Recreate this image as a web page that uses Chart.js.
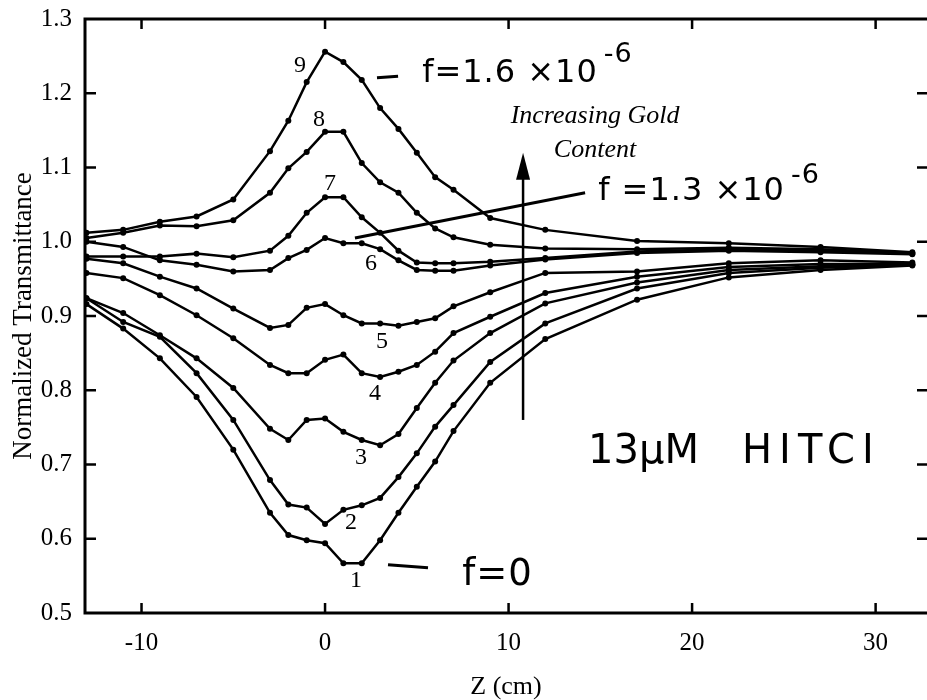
<!DOCTYPE html>
<html>
<head>
<meta charset="utf-8">
<script src="https://cdn.jsdelivr.net/npm/chart.js@4"></script>
<style>
  html, body { margin: 0; padding: 0; background: #fff; overflow: hidden; }
</style>
</head>
<body>
<canvas id="zscan" width="927" height="700"></canvas>
<script>
// DATA
const zValues = [-13, -11, -9, -7, -5, -3, -2, -1, 0, 1, 2, 3, 4, 5, 6, 7, 9, 12, 17, 22, 27, 32];

const curve1 = [0.916, 0.883, 0.843, 0.791, 0.720, 0.635, 0.605, 0.598, 0.594, 0.567, 0.567, 0.598, 0.635, 0.670, 0.704, 0.745, 0.810, 0.869, 0.922, 0.952, 0.962, 0.968];
const curve2 = [0.924, 0.892, 0.872, 0.823, 0.760, 0.679, 0.646, 0.642, 0.620, 0.639, 0.645, 0.655, 0.683, 0.715, 0.751, 0.780, 0.838, 0.890, 0.937, 0.958, 0.965, 0.969];
const curve3 = [0.924, 0.904, 0.874, 0.843, 0.803, 0.748, 0.733, 0.760, 0.762, 0.744, 0.733, 0.726, 0.741, 0.776, 0.810, 0.840, 0.877, 0.917, 0.945, 0.962, 0.967, 0.969];
const curve4 = [0.958, 0.951, 0.928, 0.901, 0.870, 0.834, 0.823, 0.823, 0.841, 0.848, 0.823, 0.818, 0.825, 0.834, 0.852, 0.877, 0.899, 0.931, 0.953, 0.966, 0.970, 0.970];
const curve5 = [0.977, 0.971, 0.953, 0.937, 0.910, 0.884, 0.888, 0.911, 0.916, 0.901, 0.890, 0.890, 0.887, 0.892, 0.897, 0.913, 0.932, 0.958, 0.960, 0.971, 0.975, 0.972];
const curve6 = [1.000, 0.993, 0.975, 0.969, 0.960, 0.962, 0.978, 0.989, 1.005, 0.998, 0.998, 0.990, 0.975, 0.962, 0.961, 0.961, 0.968, 0.976, 0.985, 0.988, 0.986, 0.983];
const curve7 = [0.980, 0.980, 0.980, 0.984, 0.979, 0.988, 1.008, 1.039, 1.060, 1.060, 1.033, 1.012, 0.988, 0.972, 0.971, 0.971, 0.973, 0.978, 0.987, 0.990, 0.988, 0.984];
const curve8 = [1.005, 1.012, 1.022, 1.021, 1.029, 1.066, 1.099, 1.121, 1.148, 1.148, 1.106, 1.080, 1.066, 1.039, 1.018, 1.006, 0.996, 0.991, 0.990, 0.992, 0.990, 0.985];
const curve9 = [1.012, 1.016, 1.027, 1.034, 1.057, 1.122, 1.163, 1.215, 1.256, 1.242, 1.218, 1.180, 1.152, 1.120, 1.087, 1.070, 1.032, 1.016, 1.001, 0.998, 0.993, 0.986];

const curves = [curve1, curve2, curve3, curve4, curve5, curve6, curve7, curve8, curve9];
const curveNames = ["1", "2", "3", "4", "5", "6", "7", "8", "9"];

const xTicks = [-10, 0, 10, 20, 30];
const yTicks = [0.5, 0.6, 0.7, 0.8, 0.9, 1.0, 1.1, 1.2, 1.3];

// curve number positions, in data units (z, T)
const nameSpots = [[1.69, 0.544], [1.42, 0.621], [1.96, 0.709], [2.72, 0.796], [3.11, 0.866],
                   [2.51, 0.971], [0.27, 1.078], [-0.33, 1.164], [-1.36, 1.237]];


// DATASETS
const datasets = curves.map((c, i) => ({
    label: curveNames[i],
    data: zValues.map((z, j) => ({ x: z, y: c[j] })),
    borderColor: "#000",
    backgroundColor: "#000",
    borderWidth: 2.5,
    pointRadius: 3,
    pointBorderWidth: 0,
    pointBackgroundColor: "#000",
    tension: 0,
    fill: false
}));


// FRAME, TICKS AND NOTES
const notesPlugin = {
    id: "notes",
    afterDraw(chart) {
        const ctx = chart.ctx;
        const xs = chart.scales.x, ys = chart.scales.y;
        const a = chart.chartArea;
        const P = (z, t) => [xs.getPixelForValue(z), ys.getPixelForValue(t)];

        ctx.save();
        ctx.strokeStyle = "#000";
        ctx.fillStyle = "#000";
        ctx.lineCap = "butt";

        // frame (right side is off the page)
        ctx.lineWidth = 3;
        ctx.beginPath();
        ctx.moveTo(a.right, a.top); ctx.lineTo(a.left, a.top);
        ctx.lineTo(a.left, a.bottom); ctx.lineTo(a.right, a.bottom);
        ctx.stroke();

        // inward ticks
        ctx.lineWidth = 2.5;
        ctx.beginPath();
        xTicks.forEach(v => {
            const x = xs.getPixelForValue(v);
            ctx.moveTo(x, a.top); ctx.lineTo(x, a.top + 10);
            ctx.moveTo(x, a.bottom); ctx.lineTo(x, a.bottom - 10);
        });
        yTicks.slice(1, -1).forEach(v => {
            const y = ys.getPixelForValue(v);
            ctx.moveTo(a.left, y); ctx.lineTo(a.left + 11, y);
            ctx.moveTo(a.right, y); ctx.lineTo(a.right - 10, y);
        });
        ctx.stroke();

        // curve numbers
        ctx.font = "24px 'Liberation Serif'";
        ctx.textAlign = "center";
        ctx.textBaseline = "middle";
        nameSpots.forEach((s, i) => {
            const [x, y] = P(s[0], s[1]);
            ctx.fillText(curveNames[i], x, y);
        });

        // handwritten notes
        ctx.textAlign = "left";
        ctx.textBaseline = "alphabetic";
        const hand = (txt, sup, z, t, tSup, size, gap) => {
            const [x, y] = P(z, t);
            ctx.font = size + "px 'DejaVu Sans'";
            ctx.letterSpacing = (gap || 0) + "px";
            ctx.fillText(txt, x, y);
            if (sup) {
                const w = ctx.measureText(txt).width;
                ctx.font = Math.round(size * 0.85) + "px 'DejaVu Sans'";
                ctx.fillText(sup, x + w + 6, ys.getPixelForValue(tSup));
            }
            ctx.letterSpacing = "0px";
        };
        const line = (z1, t1, z2, t2, w) => {
            const [x1, y1] = P(z1, t1), [x2, y2] = P(z2, t2);
            ctx.lineWidth = w;
            ctx.beginPath(); ctx.moveTo(x1, y1); ctx.lineTo(x2, y2); ctx.stroke();
        };

        line(2.83, 1.221, 3.98, 1.223, 3);
        hand("f=1.6 ×10", "-6", 5.29, 1.215, 1.242, 32, 1);

        line(1.63, 1.005, 14.17, 1.066, 3);
        hand("f =1.3 ×10", "-6", 14.88, 1.056, 1.079, 32, 1);

        hand("13μM", null, 14.33, 0.702, 0, 40, 0);
        hand("HITCI", null, 22.72, 0.702, 0, 40, 7);

        line(3.43, 0.565, 5.61, 0.561, 3);
        hand("f=0", null, 7.47, 0.538, 0, 37, 1);

        // increasing gold content + arrow
        ctx.font = "italic 26px 'Liberation Serif'";
        ctx.textAlign = "center";
        let [cx, cy] = P(14.71, 1.160);
        ctx.fillText("Increasing Gold", cx, cy);
        [cx, cy] = P(14.71, 1.114);
        ctx.fillText("Content", cx, cy);

        const [ax, ay0] = P(10.79, 0.760);
        const ay1 = ys.getPixelForValue(1.120);
        ctx.lineWidth = 2.5;
        ctx.beginPath(); ctx.moveTo(ax, ay0); ctx.lineTo(ax, ay1 + 20); ctx.stroke();
        ctx.beginPath();
        ctx.moveTo(ax, ay1); ctx.lineTo(ax - 7, ay1 + 27); ctx.lineTo(ax + 7, ay1 + 27);
        ctx.closePath(); ctx.fill();

        ctx.restore();
    }
};


// CHART
new Chart(document.getElementById("zscan"), {
    type: "line",
    data: { datasets: datasets },
    options: {
        responsive: false,
        animation: false,
        events: [],
        layout: { autoPadding: false, padding: { top: 19, right: 0, bottom: 0, left: 0 } },
        plugins: { legend: { display: false }, tooltip: { enabled: false } },
        scales: {
            x: {
                type: "linear",
                min: -13.08,
                max: 32.8,
                afterBuildTicks: s => { s.ticks = xTicks.map(v => ({ value: v })); },
                afterFit: s => { s.height = 87; s.paddingLeft = 0; s.paddingRight = 0; },
                grid: { display: false, drawTicks: false },
                border: { display: false },
                ticks: {
                    color: "#000",
                    padding: 15,
                    maxRotation: 0,
                    font: { family: "'Liberation Serif'", size: 25 },
                    callback: v => String(v)
                },
                title: {
                    display: true,
                    text: "Z (cm)",
                    color: "#000",
                    padding: { top: 0, bottom: 0 },
                    font: { family: "'Liberation Serif'", size: 26, lineHeight: 1 }
                }
            },
            y: {
                min: 0.5,
                max: 1.3,
                afterBuildTicks: s => { s.ticks = yTicks.map(v => ({ value: v })); },
                afterFit: s => { s.width = 85; s.paddingTop = 0; s.paddingBottom = 0; },
                grid: { display: false, drawTicks: false },
                border: { display: false },
                ticks: {
                    color: "#000",
                    padding: 13,
                    font: { family: "'Liberation Serif'", size: 25 },
                    callback: v => Number(v).toFixed(1)
                },
                title: {
                    display: true,
                    text: "Normalized Transmittance",
                    color: "#000",
                    padding: { top: 8, bottom: 0 },
                    font: { family: "'Liberation Serif'", size: 27, lineHeight: 1.2 }
                }
            }
        }
    },
    plugins: [notesPlugin]
});
</script>
</body>
</html>
